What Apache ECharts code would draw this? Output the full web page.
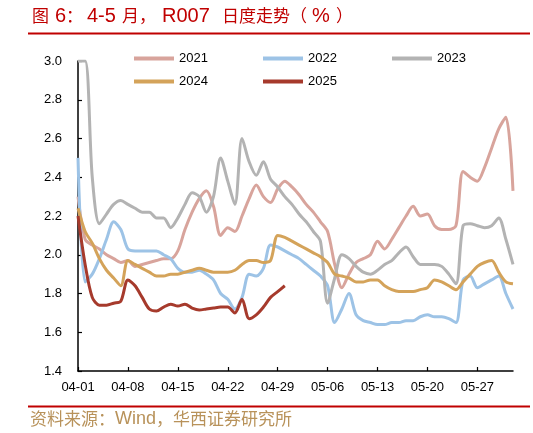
<!DOCTYPE html>
<html>
<head>
<meta charset="utf-8">
<script src="https://cdn.jsdelivr.net/npm/echarts@6/dist/echarts.min.js"></script>
<style>
html,body{margin:0;padding:0;background:#fff;}
#c{width:533px;height:433px;}
</style>
</head>
<body>
<div id="c"></div>
<script>
var dates = ['04-01','04-02','04-03','04-04','04-05','04-06','04-07','04-08','04-09','04-10',
'04-11','04-12','04-13','04-14','04-15','04-16','04-17','04-18','04-19','04-20',
'04-21','04-22','04-23','04-24','04-25','04-26','04-27','04-28','04-29','04-30',
'05-01','05-02','05-03','05-04','05-05','05-06','05-07','05-08','05-09','05-10',
'05-11','05-12','05-13','05-14','05-15','05-16','05-17','05-18','05-19','05-20',
'05-21','05-22','05-23','05-24','05-25','05-26','05-27','05-28','05-29','05-30',
'05-31','06-01'];

var r2021 = [2.30,2.08,2.05,2.03,2.00,1.98,1.96,1.97,1.94,1.95,
1.96,1.97,1.98,1.98,2.02,2.13,2.22,2.29,2.33,2.25,
2.10,2.14,2.12,2.20,2.29,2.36,2.30,2.27,2.34,2.38,
2.35,2.31,2.26,2.22,2.17,2.12,1.95,1.83,1.90,1.96,
1.98,2.00,2.07,2.03,2.08,2.14,2.20,2.25,2.20,2.21,
2.15,2.13,2.13,2.15,2.43,2.40,2.38,2.45,2.55,2.65,
2.71,2.33];

var r2022 = [2.50,1.86,1.90,1.98,2.08,2.17,2.13,2.03,2.02,2.02,
2.02,2.02,2.00,1.98,1.93,1.91,1.91,1.92,1.90,1.87,
1.80,1.77,1.72,1.78,1.90,1.89,1.93,2.05,2.04,2.02,
2.00,1.98,1.95,1.92,1.89,1.84,1.65,1.72,1.80,1.69,
1.66,1.65,1.64,1.64,1.65,1.65,1.66,1.66,1.68,1.69,
1.68,1.68,1.67,1.65,1.87,1.89,1.83,1.85,1.87,1.89,
1.80,1.72];

var r2023 = [3.00,3.00,2.40,2.16,2.21,2.26,2.28,2.26,2.24,2.22,
2.22,2.19,2.19,2.14,2.19,2.26,2.32,2.30,2.22,2.30,
2.50,2.38,2.26,2.60,2.48,2.41,2.48,2.39,2.35,2.30,
2.26,2.21,2.17,2.12,2.07,1.75,1.88,2.00,1.98,1.94,
1.91,1.90,1.92,1.95,1.97,2.01,2.04,1.99,1.95,1.95,
1.95,1.94,1.90,1.85,2.15,2.16,2.15,2.14,2.15,2.19,
2.08,1.95];

var r2024 = [2.24,2.12,2.06,1.98,1.92,1.88,1.84,1.97,1.95,1.93,
1.91,1.89,1.89,1.90,1.90,1.91,1.92,1.93,1.92,1.91,
1.91,1.91,1.92,1.95,1.97,1.97,1.96,1.97,2.10,2.09,
2.07,2.05,2.03,2.01,1.99,1.96,1.90,1.89,1.88,1.86,
1.86,1.87,1.87,1.84,1.82,1.81,1.81,1.81,1.82,1.83,
1.87,1.86,1.84,1.82,1.86,1.90,1.94,1.96,1.97,1.91,
1.86,1.85];

var r2025 = [2.20,1.95,1.78,1.74,1.74,1.75,1.76,1.87,1.84,1.78,
1.72,1.71,1.73,1.745,1.735,1.745,1.725,1.715,1.72,1.725,
1.73,1.73,1.70,1.77,1.67,1.69,1.73,1.78,1.81,1.84];

var yearNames = ['2021','2022','2023','2024','2025'];
var yearColors = ['#D8A49C','#9DC3E6','#B3B3B3','#D4A35A','#A63A2C'];
var yearData = [r2021, r2022, r2023, r2024, r2025];

var titleParts = ['图','6','：','4-5','月','，','R007','日度走势','（','%','）'];
var titleIsCJK = [true,false,true,false,true,true,false,true,true,false,true];
var titleX = [32,55,66,87,122,139,162,222,290,312,336];

var legendPos = [[134,52],[263,52],[392,52],[134,75],[263,75]];

var chart = echarts.init(document.getElementById('c'), null, {renderer:'canvas'});

var legends = yearNames.map(function(n,i){
  return {
    data:[n], left:legendPos[i][0], top:legendPos[i][1], padding:0,
    icon:'rect', itemWidth:40, itemHeight:4, itemGap:0,
    selectedMode:false,
    textStyle:{fontSize:13, color:'#000', fontFamily:'Liberation Sans, Arial, sans-serif'}
  };
});

var series = yearNames.map(function(n,i){
  return {
    name:n, type:'line', data:yearData[i], symbol:'none', showSymbol:false,
    smooth:0.3, color:yearColors[i],
    lineStyle:{width:3, color:yearColors[i]},
    itemStyle:{color:yearColors[i]},
    z: 2+i
  };
});

var titleRed = '#C00000';
var graphics = titleParts.map(function(t,i){
  return {type:'text', x:titleX[i], y:16, silent:true,
    style:{text:t, fill:titleRed,
      fontSize: titleIsCJK[i] ? 17 : 20,
      fontFamily: titleIsCJK[i] ? 'Noto Sans CJK SC' : 'Liberation Sans, Arial, sans-serif',
      verticalAlign:'middle', align:'left'}};
});
graphics.push(
  {type:'line', silent:true, shape:{x1:28, y1:33.5, x2:530, y2:33.5},
   style:{stroke:titleRed, lineWidth:2}},
  {type:'line', silent:true, shape:{x1:28, y1:406.5, x2:530, y2:406.5},
   style:{stroke:titleRed, lineWidth:2}},
  {type:'text', x:30, y:419, silent:true,
   style:{
     text:'{c|资料来源：}{l|Wind}{c|，华西证券研究所}',
     fill:'#B8925A', fontSize:17, verticalAlign:'middle', align:'left',
     rich:{
       c:{fontSize:17, fontFamily:'Noto Sans CJK SC', fill:'#B8925A'},
       l:{fontSize:18, fontFamily:'Liberation Sans, Arial, sans-serif', fill:'#B8925A'}
     }
   }}
);

var option = {
  animation:false,
  backgroundColor:'#fff',
  legend: legends,
  grid:{left:78, right:20, top:61, bottom:62, containLabel:false},
  xAxis:{
    type:'category', data:dates, boundaryGap:false,
    axisLine:{show:true, lineStyle:{color:'#000', width:1.5}},
    axisTick:{show:true, inside:true, length:4, interval:6, lineStyle:{color:'#000', width:1.2}},
    axisLabel:{interval:6, margin:10, fontSize:13, color:'#000', fontFamily:'Liberation Sans, Arial, sans-serif'},
    splitLine:{show:false}
  },
  yAxis:{
    type:'value', min:1.4, max:3.0, interval:0.2,
    axisLine:{show:true, lineStyle:{color:'#000', width:1.5}},
    axisTick:{show:true, inside:true, length:4, lineStyle:{color:'#000', width:1.2}},
    axisLabel:{margin:16, fontSize:13, color:'#000', fontFamily:'Liberation Sans, Arial, sans-serif',
      formatter:function(v){return v.toFixed(1);}},
    splitLine:{show:false}
  },
  series: series,
  graphic: graphics
};
chart.setOption(option);
</script>
</body>
</html>
